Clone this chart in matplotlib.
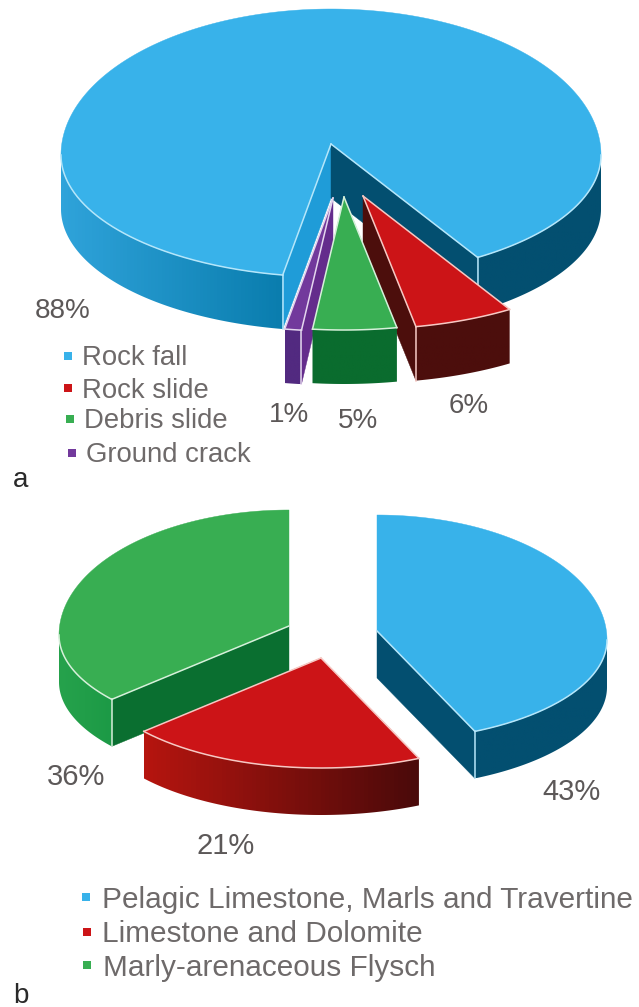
import numpy as np
import matplotlib
matplotlib.use('Agg')
import matplotlib.pyplot as plt
from matplotlib.colors import to_rgb
from matplotlib.patches import Polygon

plt.rcParams['font.family'] = ['Liberation Sans', 'DejaVu Sans']

# landslide types
types = ['Rock fall', 'Rock slide', 'Debris slide', 'Ground crack']
type_values = [88, 6, 5, 1]
type_labels = ['88%', '6%', '5%', '1%']

# lithology
rocks = ['Pelagic Limestone, Marls and Travertine', 'Limestone and Dolomite', 'Marly-arenaceous Flysch']
rock_values = [43, 21, 36]
rock_labels = ['43%', '21%', '36%']

BLUE = dict(top='#38b2ea', face='#034f70', wall_l=('#2fa3da', '#0a7dae'), wall_r=('#034f70', '#034f70'),
            face_l='#1f9cd8', edge='#b5e6fa')
RED = dict(top='#cc1417', face='#4c0e0c', wall_l=('#4c0e0c', '#4c0e0c'), wall_r=('#4c0e0c', '#4c0e0c'),
           face_l='#4c0e0c', edge='#f6c9c4')
GREEN = dict(top='#38ae52', face='#0a6c2e', wall_l=('#0a6c2e', '#0a6c2e'), wall_r=('#0a6c2e', '#0a6c2e'),
             face_l='#0a6c2e', edge='#d6f0da')
PURPLE = dict(top='#72399c', face='#642c8c', wall_l=('#522a80', '#522a80'), wall_r=('#522a80', '#522a80'),
              face_l='#642c8c', edge='#e4d6ee')
RED_B = dict(RED, wall_r=('#b5150f', '#4a0a0a'))
GREEN_B = dict(GREEN, wall_l=('#26a24c', '#1c9a46'), face_l='#0a6f30')
BLUE_B = dict(BLUE, face_l='#034f70')

fig = plt.figure(figsize=(6.39, 10.07), dpi=100)
ax = fig.add_axes([0, 0, 1, 1])
z = [1]


def next_z():
    z[0] += 1
    return z[0]


def rim(apex, shape, a0, a1):
    # points on the rim, angles clockwise from 12 o'clock; the rim sits a bit
    # below the apex and its back half is taller than the front (perspective)
    rx, ry_back, ry_front, dy = shape
    t = np.radians(np.linspace(a0, a1, max(2, int(abs(a1 - a0)) * 2 + 2)))
    ry = np.where(np.cos(t) > 0, ry_back, ry_front)
    return np.column_stack([apex[0] + rx * np.sin(t), apex[1] + dy - ry * np.cos(t)])


def gradient_fill(verts, c0, c1):
    # horizontal colour ramp clipped to the polygon
    x0, x1 = verts[:, 0].min(), verts[:, 0].max()
    y0, y1 = verts[:, 1].min(), verts[:, 1].max()
    ramp = np.linspace(to_rgb(c0), to_rgb(c1), 64)[np.newaxis, :, :]
    im = ax.imshow(ramp, extent=(x0, x1, y1, y0), aspect='auto', zorder=next_z())
    im.set_clip_path(Polygon(verts, transform=ax.transData))


def draw_wall(apex, shape, a0, a1, depth, colors):
    arc = rim(apex, shape, a0, a1)
    verts = np.vstack([arc, arc[::-1] + [0, depth]])
    gradient_fill(verts, *colors)


def draw_face(apex, shape, angle, depth, color):
    tip = rim(apex, shape, angle, angle)[0]
    a = np.array(apex, dtype=float)
    verts = np.array([a, tip, tip + [0, depth], a + [0, depth]])
    ax.add_patch(Polygon(verts, closed=True, fc=color, ec=color, lw=0.3, zorder=next_z()))


def draw_slice(apex, shape, a0, a1, depth, st):
    # outer wall only exists on the front half of the rim
    front = []
    for k in (-360, 0):
        lo, hi = max(a0 + k, 90), min(a1 + k, 270)
        if hi > lo:
            front.append((lo, hi))
    for lo, hi in front:
        if lo < 180 < hi or hi <= 180:
            draw_wall(apex, shape, lo, hi, depth, st['wall_r'])
        else:
            draw_wall(apex, shape, lo, hi, depth, st['wall_l'])

    start_vis = np.sin(np.radians(a0)) < -1e-6
    end_vis = np.sin(np.radians(a1)) > 1e-6
    if start_vis:
        draw_face(apex, shape, a0, depth, st['face_l'])
    if end_vis:
        draw_face(apex, shape, a1, depth, st['face'])

    arc = rim(apex, shape, a0, a1)
    top = np.vstack([[apex], arc])
    ax.add_patch(Polygon(top, closed=True, fc=st['top'], ec=st['top'], lw=0.3, zorder=next_z()))

    # light outlines along the front of the slice
    zl = next_z()
    for lo, hi in front:
        seg = rim(apex, shape, lo, hi)
        ax.plot(seg[:, 0], seg[:, 1], color=st['edge'], lw=1.1, zorder=zl)
    for angle, visible in ((a0, start_vis), (a1, end_vis)):
        tip = rim(apex, shape, angle, angle)[0]
        if 90 <= angle % 360 <= 270:
            ax.plot([apex[0], tip[0]], [apex[1], tip[1]], color=st['edge'], lw=1.1, zorder=zl)
        if visible:
            ax.plot([tip[0], tip[0]], [tip[1], tip[1] + depth], color=st['edge'], lw=1.1, zorder=zl)


def draw_pie(values, start, apexes, shape, depth, styles, order):
    bounds = start + np.concatenate([[0], np.cumsum(values)]) * 3.6
    for i in order:
        draw_slice(apexes[i], shape, bounds[i], bounds[i + 1], depth, styles[i])


# upper pie
draw_pie(type_values, 190.3, [(331, 144), (363, 196), (344, 197), (333, 198)], (270, 146, 122, 11), 54,
         [BLUE, RED, GREEN, PURPLE], [0, 1, 3, 2])
# lower pie
draw_pie(rock_values, 0, [(377, 631), (321, 658), (289, 626)], (230, 125, 101, 9), 47,
         [BLUE_B, RED_B, GREEN_B], [2, 0, 1])

PCT = '#5c5858'
LEG = '#6e6a6a'
for txt, x, y in zip(type_labels, [35, 449, 338, 269], [318, 413, 428, 422]):
    ax.text(x, y, txt, fontsize=20, color=PCT, va='baseline', ha='left')
for txt, x, y in zip(rock_labels, [542, 196, 47], [800, 854, 785]):
    ax.text(x, y, txt, fontsize=21, color=PCT, va='baseline', ha='left')

type_colors = [BLUE['top'], RED['top'], GREEN['top'], PURPLE['top']]
for name, c, mx, my, tx, ty in zip(types, type_colors, [68, 68, 69.5, 71.5], [355.5, 388, 419, 453],
                                   [82, 82, 84, 86], [365, 398, 428, 462]):
    ax.scatter([mx], [my], marker='s', s=38, color=c, linewidths=0, zorder=next_z())
    ax.text(tx, ty, name, fontsize=19.8, color=LEG, va='baseline', ha='left')

rock_colors = [BLUE['top'], RED['top'], GREEN['top']]
for name, c, mx, my, tx, ty in zip(rocks, rock_colors, [86, 87, 87], [897, 932, 965],
                                   [102, 102, 103], [908, 942, 976]):
    ax.scatter([mx], [my], marker='s', s=38, color=c, linewidths=0, zorder=next_z())
    ax.text(tx, ty, name, fontsize=21.4, color=LEG, va='baseline', ha='left')

ax.text(13, 487, 'a', fontsize=20, color='#2a2a2a', va='baseline', ha='left')
ax.text(13, 1003, 'b', fontsize=20, color='#2a2a2a', va='baseline', ha='left')

ax.set_xlim(0, 639)
ax.set_ylim(1007, 0)
ax.axis('off')
fig.savefig('out.png', dpi=100, facecolor='white')
